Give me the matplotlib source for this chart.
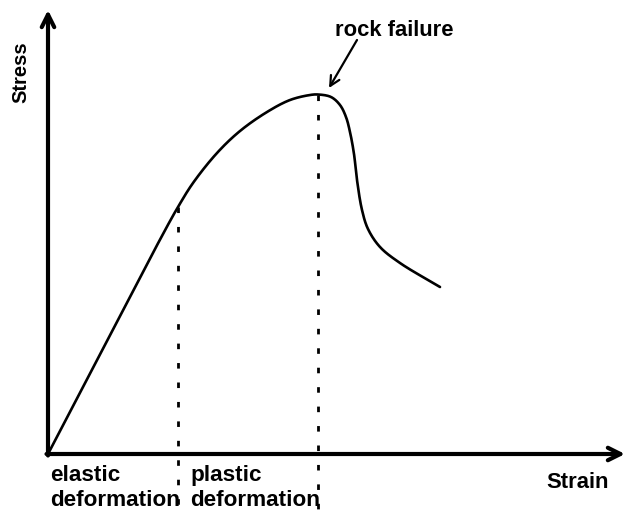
import numpy as np
import matplotlib
matplotlib.use("Agg")
import matplotlib.pyplot as plt

# Curve data (strain, stress) in arbitrary units
strain = [0, 60, 115, 130, 145, 169, 192, 219, 242, 262, 270, 283, 292, 298, 302, 306, 309, 314, 320, 332, 352, 392]
stress = [0, 115, 220, 247, 271, 301, 323, 342, 354, 359, 359.5, 357, 349, 337, 322, 300, 274, 244, 225, 207, 191, 167]

# region boundaries (strain at yield, strain at failure)
boundary_strain = [130, 270]
boundary_stress = [247, 359.5]

region_labels = ["elastic\ndeformation", "plastic\ndeformation"]
x_label = "Strain"
y_label = "Stress"
failure_label = "rock failure"

plt.rcParams['font.family'] = ['Liberation Sans', 'DejaVu Sans']

fig = plt.figure(figsize=(6.27, 5.18), dpi=100)
ax = fig.add_axes([0, 0, 1, 1])
ax.set_xlim(-48, 579)
ax.set_ylim(-64, 454)
ax.axis('off')


def centripetal_catmull_rom(xs, ys, n=24, alpha=0.5):
    p = np.column_stack([xs, ys]).astype(float)
    p = np.vstack([2 * p[0] - p[1], p, 2 * p[-1] - p[-2]])
    out = []
    for i in range(1, len(p) - 2):
        P0, P1, P2, P3 = p[i - 1], p[i], p[i + 1], p[i + 2]
        t0 = 0.0
        t1 = t0 + np.linalg.norm(P1 - P0) ** alpha
        t2 = t1 + np.linalg.norm(P2 - P1) ** alpha
        t3 = t2 + np.linalg.norm(P3 - P2) ** alpha
        t = np.linspace(t1, t2, n, endpoint=False)[:, None]
        A1 = (t1 - t) / (t1 - t0) * P0 + (t - t0) / (t1 - t0) * P1
        A2 = (t2 - t) / (t2 - t1) * P1 + (t - t1) / (t2 - t1) * P2
        A3 = (t3 - t) / (t3 - t2) * P2 + (t - t2) / (t3 - t2) * P3
        B1 = (t2 - t) / (t2 - t0) * A1 + (t - t0) / (t2 - t0) * A2
        B2 = (t3 - t) / (t3 - t1) * A2 + (t - t1) / (t3 - t1) * A3
        C = (t2 - t) / (t2 - t1) * B1 + (t - t1) / (t2 - t1) * B2
        out.append(C)
    out.append(p[-2][None, :])
    out = np.vstack(out)
    return out[:, 0], out[:, 1]


cx, cy = centripetal_catmull_rom(strain, stress)
ax.plot(cx, cy, color='black', lw=1.9, solid_capstyle='round', zorder=3)

# dotted boundaries
for bx, by in zip(boundary_strain, boundary_stress):
    ax.plot([bx, bx], [by, -61], color='black', lw=2, linestyle=(0, (2, 5)), zorder=2)

# axes with open arrow heads
ax.annotate('', xy=(0, 444), xytext=(0, -1.5),
            arrowprops=dict(arrowstyle='->,head_length=0.9,head_width=0.45', lw=3,
                            color='black', shrinkA=0, shrinkB=0))
ax.annotate('', xy=(577, 0), xytext=(-1.5, 0),
            arrowprops=dict(arrowstyle='->,head_length=0.9,head_width=0.45', lw=3,
                            color='black', shrinkA=0, shrinkB=0))

# labels
ax.text(-27, 382, y_label, rotation=90, ha='center', va='center', fontsize=14.5, fontweight='bold')
ax.text(530, -29, x_label, ha='center', va='center', fontsize=15.8, fontweight='bold')
ax.text(2, -34, region_labels[0], ha='left', va='center', fontsize=16.2, fontweight='bold',
        linespacing=1.2)
ax.text(142, -34, region_labels[1], ha='left', va='center', fontsize=16.2, fontweight='bold',
        linespacing=1.2)

ax.text(346, 424, failure_label, ha='center', va='center', fontsize=15.8, fontweight='bold')
ax.annotate('', xy=(281, 366), xytext=(309, 414),
            arrowprops=dict(arrowstyle='->,head_length=0.7,head_width=0.35', lw=1.6,
                            color='black', shrinkA=0, shrinkB=0))

fig.savefig('out.png', dpi=100)
